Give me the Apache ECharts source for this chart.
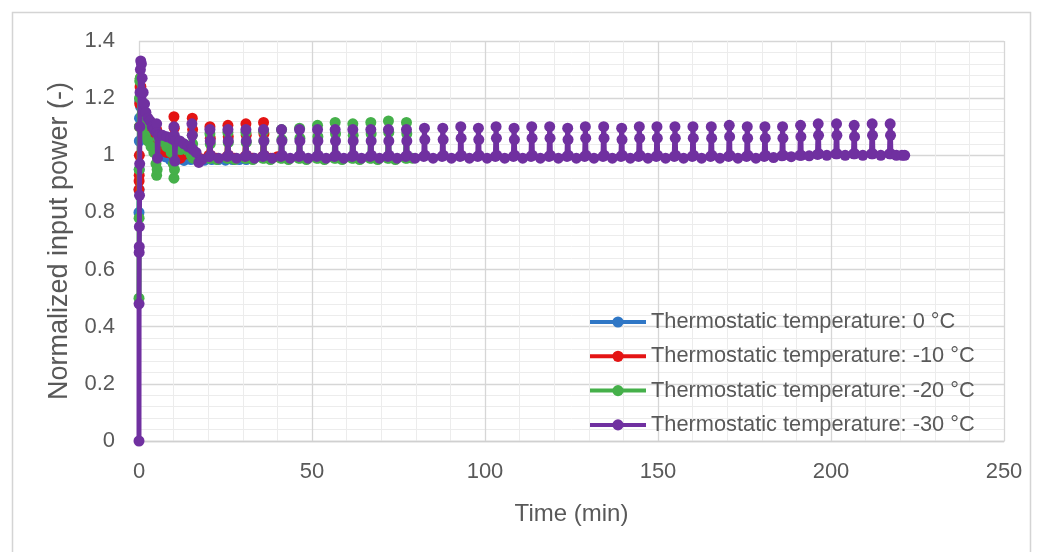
<!DOCTYPE html>
<html><head><meta charset="utf-8">
<script src="https://cdn.jsdelivr.net/npm/echarts@6/dist/echarts.min.js"></script>
<style>html,body{margin:0;padding:0;background:#fff}#c{width:1044px;height:552px}</style>
</head><body><div id="c"></div>
<script>
const seriesNames = [
  'Thermostatic temperature: 0 °C',
  'Thermostatic temperature: -10 °C',
  'Thermostatic temperature: -20 °C',
  'Thermostatic temperature: -30 °C'
];
const seriesColors = ['#2f77c6', '#e41414', '#45b04a', '#7030a0'];
const xAxisTitle = 'Time (min)';
const yAxisTitle = 'Normalized input power (-)';

// [time (min), normalized power]
const temp0 = [
  [0,0.80],[0.03,0.88],[0.06,0.95],[0.1,1.05],[0.15,1.13],[0.22,1.19],[0.32,1.2],[0.45,1.17],[0.7,1.12],[1.0,1.09],
  [1.5,1.07],[2.2,1.06],[3.0,1.05],[4.0,1.04],[5.0,1.03],[6.0,1.01],[7.5,0.995],[9,0.985],[11,0.985],[13,0.982],
  [15,0.985],[17,0.985],[19,0.983],[21,0.985],[23,0.985],[25,0.983],[27,0.985],[29,0.985],[31,0.985],[33,0.99]
];
const tempNeg10 = [
  [0,0.88],[0.03,0.91],[0.06,0.93],[0.1,1.0],[0.15,1.1],[0.2,1.18],[0.3,1.24],[0.4,1.27],[0.55,1.24],[0.8,1.18],
  [1.1,1.12],[1.5,1.09],[2.2,1.08],[3.0,1.07],[4.0,1.06],[4.9,1.04],[5.1,1.09],[5.3,1.0],[6.5,1.02],[8,1.01],
  [9.9,1.0],[10.1,1.135],[10.2,1.095],[10.3,1.0],[12,0.99],[15.1,1.0],[15.4,1.13],[15.5,1.09],[15.6,1.0],[17.5,0.99],
  [20.2,1.0],[20.5,1.10],[20.6,1.06],[20.7,1.0],[22.5,0.99],[25.4,0.995],[25.7,1.105],[25.8,1.065],[25.9,1.0],[27.7,0.99],
  [30.6,0.995],[30.9,1.11],[31.0,1.07],[31.1,1.0],[32.9,0.99],[35.7,0.995],[36.0,1.115],[36.1,1.075],[36.2,1.0],[38,0.99],
  [40,0.995]
];
const tempNeg20 = [
  [0,0.5],[0.03,0.78],[0.06,0.95],[0.1,1.1],[0.15,1.2],[0.22,1.26],[0.35,1.27],[0.5,1.22],[0.8,1.14],[1.2,1.1],
  [1.8,1.07],[2.6,1.05],[3.5,1.03],[4.3,1.01],[4.9,0.97],[5.1,0.93],[5.25,0.95],[5.5,1.06],[6.5,1.05],[8,1.03],
  [9.3,1.01],[9.9,0.97],[10.1,0.92],[10.25,0.95],[10.5,1.04],[12,1.02],[15.1,1.0],[15.4,1.07],[15.5,1.04],[15.6,0.99],
  [17.5,0.985],[20.2,0.99],[20.5,1.075],[20.6,1.04],[20.7,0.99],[22.5,0.985],[25.4,0.99],[25.7,1.08],[25.8,1.045],[25.9,0.99],
  [27.7,0.985],[30.6,0.99],[30.9,1.08],[31.0,1.045],[31.1,0.99],[32.9,0.985],[35.7,0.99],[36.0,1.085],[36.1,1.05],[36.2,0.99],
  [38,0.985],[40.9,0.99],[41.2,1.09],[41.3,1.055],[41.4,0.99],[43.2,0.985],[46.1,0.99],[46.4,1.095],[46.5,1.06],[46.6,0.99],
  [48.4,0.985],[51.3,0.99],[51.6,1.105],[51.7,1.065],[51.8,0.99],[53.6,0.985],[56.4,0.99],[56.7,1.115],[56.8,1.075],[56.9,0.99],
  [58.7,0.985],[61.5,0.99],[61.8,1.11],[61.9,1.07],[62.0,0.99],[63.8,0.985],[66.7,0.99],[67.0,1.115],[67.1,1.075],[67.2,0.99],
  [69,0.985],[71.8,0.99],[72.1,1.12],[72.2,1.08],[72.3,0.99],[74.1,0.985],[77.0,0.99],[77.3,1.115],[77.4,1.075],[77.5,0.99],
  [79,0.99]
];
const tempNeg30 = [
  [0,0],[0.02,0.48],[0.05,0.66],[0.08,0.68],[0.11,0.75],[0.15,0.86],[0.2,0.97],[0.25,1.1],[0.3,1.22],[0.4,1.3],
  [0.5,1.33],[0.7,1.32],[0.9,1.27],[1.2,1.22],[1.6,1.18],[2.0,1.15],[2.6,1.13],[3.2,1.12],[3.8,1.10],[4.4,1.09],
  [5.0,1.08],[5.1,1.11],[5.2,1.08],[5.35,0.99],[5.6,1.07],[6.8,1.07],[8.0,1.065],[9.2,1.06],[10.0,1.055],[10.1,1.10],
  [10.2,1.07],[10.35,0.98],[10.6,1.05],[11.8,1.05],[13.0,1.04],[14.2,1.03],[15.2,1.025],[15.3,1.11],[15.4,1.07],[15.6,1.02],
  [16.5,1.01],[17.3,0.975],[18.2,0.985],[20.3,0.995],
  [20.5,1.09],[20.6,1.05],[20.7,1.0],[23.0,0.99],[25.5,0.996],
  [25.7,1.09],[25.8,1.05],[25.9,1.0],[28.2,0.99],[30.7,0.996],
  [30.9,1.09],[31.0,1.05],[31.1,1.0],[33.4,0.99],[35.8,0.996],
  [36.0,1.09],[36.1,1.05],[36.2,1.0],[38.5,0.99],[41.0,0.996],
  [41.2,1.09],[41.3,1.05],[41.4,1.0],[43.7,0.99],[46.2,0.996],
  [46.4,1.09],[46.5,1.05],[46.6,1.0],[48.9,0.99],[51.4,0.996],
  [51.6,1.09],[51.7,1.05],[51.8,1.0],[54.1,0.99],[56.5,0.996],
  [56.7,1.09],[56.8,1.05],[56.9,1.0],[59.2,0.99],[61.6,0.996],
  [61.8,1.09],[61.9,1.05],[62.0,1.0],[64.3,0.99],[66.8,0.996],
  [67.0,1.09],[67.1,1.05],[67.2,1.0],[69.5,0.99],[71.9,0.996],
  [72.1,1.09],[72.2,1.05],[72.3,1.0],[74.6,0.99],[77.1,0.996],
  [77.3,1.09],[77.4,1.05],[77.5,1.0],[79.8,0.99],[82.3,0.996],
  [82.5,1.095],[82.6,1.055],[82.7,1.0],[85.0,0.99],[87.6,0.996],
  [87.8,1.095],[87.9,1.055],[88.0,1.0],[90.3,0.99],[92.8,0.996],
  [93.0,1.10],[93.1,1.06],[93.2,1.0],[95.5,0.99],[97.9,0.996],
  [98.1,1.095],[98.2,1.055],[98.3,1.0],[100.6,0.99],[103.0,0.996],
  [103.2,1.10],[103.3,1.06],[103.4,1.0],[105.7,0.99],[108.2,0.996],
  [108.4,1.095],[108.5,1.055],[108.6,1.0],[110.9,0.99],[113.3,0.996],
  [113.5,1.10],[113.6,1.06],[113.7,1.0],[116.0,0.99],[118.5,0.996],
  [118.7,1.10],[118.8,1.06],[118.9,1.0],[121.2,0.99],[123.7,0.996],
  [123.9,1.095],[124.0,1.055],[124.1,1.0],[126.4,0.99],[128.8,0.996],
  [129.0,1.10],[129.1,1.06],[129.2,1.0],[131.5,0.99],[134.1,0.996],
  [134.3,1.10],[134.4,1.06],[134.5,1.0],[136.8,0.99],[139.3,0.996],
  [139.5,1.095],[139.6,1.055],[139.7,1.0],[142.0,0.99],[144.4,0.996],
  [144.6,1.10],[144.7,1.06],[144.8,1.0],[147.1,0.99],[149.5,0.996],
  [149.7,1.10],[149.8,1.06],[149.9,1.0],[152.2,0.99],[154.7,0.996],
  [154.9,1.10],[155.0,1.06],[155.1,1.0],[157.4,0.99],[159.9,0.996],
  [160.1,1.10],[160.2,1.06],[160.3,1.0],[162.6,0.99],[165.2,0.996],
  [165.4,1.10],[165.5,1.06],[165.6,1.0],[167.9,0.99],[170.4,0.996],
  [170.6,1.105],[170.7,1.065],[170.8,1.0],[173.1,0.99],[175.6,0.996],
  [175.8,1.10],[175.9,1.06],[176.0,1.0],[178.3,0.99],[180.7,0.996],
  [180.9,1.10],[181.0,1.06],[181.1,1.0],[183.4,0.992],[185.8,0.998],
  [186.0,1.10],[186.1,1.06],[186.2,1.0],[188.5,0.995],[191.0,1.0],
  [191.2,1.105],[191.3,1.065],[191.4,1.0],[193.7,0.998],[196.1,1.003],
  [196.3,1.11],[196.4,1.07],[196.5,1.005],[198.8,1.0],[201.4,1.005],
  [201.6,1.11],[201.7,1.07],[201.8,1.005],[204.1,1.0],[206.5,1.005],
  [206.7,1.105],[206.8,1.065],[206.9,1.005],[209.2,1.0],[211.7,1.005],
  [211.9,1.11],[212.0,1.07],[212.1,1.005],[214.4,1.0],[216.9,1.005],
  [217.1,1.11],[217.2,1.07],[217.3,1.005],[218.9,1.0],[220.5,1.0],[221.3,1.0]
];
const seriesData = [temp0, tempNeg10, tempNeg20, tempNeg30];

const FONT = 'Liberation Sans';
const TXT = '#595959';
const chart = echarts.init(document.getElementById('c'), null, {renderer: 'canvas'});
const option = {
  animation: false,
  backgroundColor: '#ffffff',
  graphic: [{
    type: 'rect', silent: true, z: -10,
    shape: {x: 12.5, y: 12.5, width: 1018, height: 600},
    style: {fill: 'none', stroke: '#d4d4d4', lineWidth: 1.5}
  }],
  grid: {left: 139, right: 40, top: 41, bottom: 111},
  xAxis: {
    type: 'value', min: 0, max: 250, interval: 50,
    name: xAxisTitle, nameLocation: 'middle', nameGap: 61,
    nameTextStyle: {fontFamily: FONT, fontSize: 24, color: TXT},
    axisLine: {show: true, lineStyle: {color: '#d0d0d0', width: 1.3}},
    axisTick: {show: false},
    axisLabel: {fontFamily: FONT, fontSize: 22, color: TXT, margin: 20},
    splitLine: {show: true, lineStyle: {color: '#d6d6d6', width: 1.3}},
    minorTick: {show: false, splitNumber: 5},
    minorSplitLine: {show: true, lineStyle: {color: '#ececec', width: 1}}
  },
  yAxis: {
    type: 'value', min: 0, max: 1.4, interval: 0.2,
    name: yAxisTitle, nameLocation: 'middle', nameGap: 61,
    nameTextStyle: {fontFamily: FONT, fontSize: 27, color: TXT},
    axisLine: {show: false},
    axisTick: {show: false},
    axisLabel: {fontFamily: FONT, fontSize: 22, color: TXT, margin: 24},
    splitLine: {show: true, lineStyle: {color: '#d6d6d6', width: 1.3}},
    minorTick: {show: false, splitNumber: 5},
    minorSplitLine: {show: true, lineStyle: {color: '#ececec', width: 1}}
  },
  legend: {
    orient: 'vertical', left: 583, top: 306,
    itemWidth: 56, itemHeight: 14, itemGap: 12.3,
    lineStyle: {width: 4},
    textStyle: {fontFamily: FONT, fontSize: 21.8, color: TXT},
    data: seriesNames
  },
  series: seriesNames.map((n, i) => ({
    name: n, type: 'line', data: seriesData[i],
    showSymbol: true, symbol: 'circle', symbolSize: 11,
    lineStyle: {color: seriesColors[i], width: 5},
    itemStyle: {color: seriesColors[i]},
    z: 2 + i
  }))
};
chart.setOption(option);
</script>
</body></html>
